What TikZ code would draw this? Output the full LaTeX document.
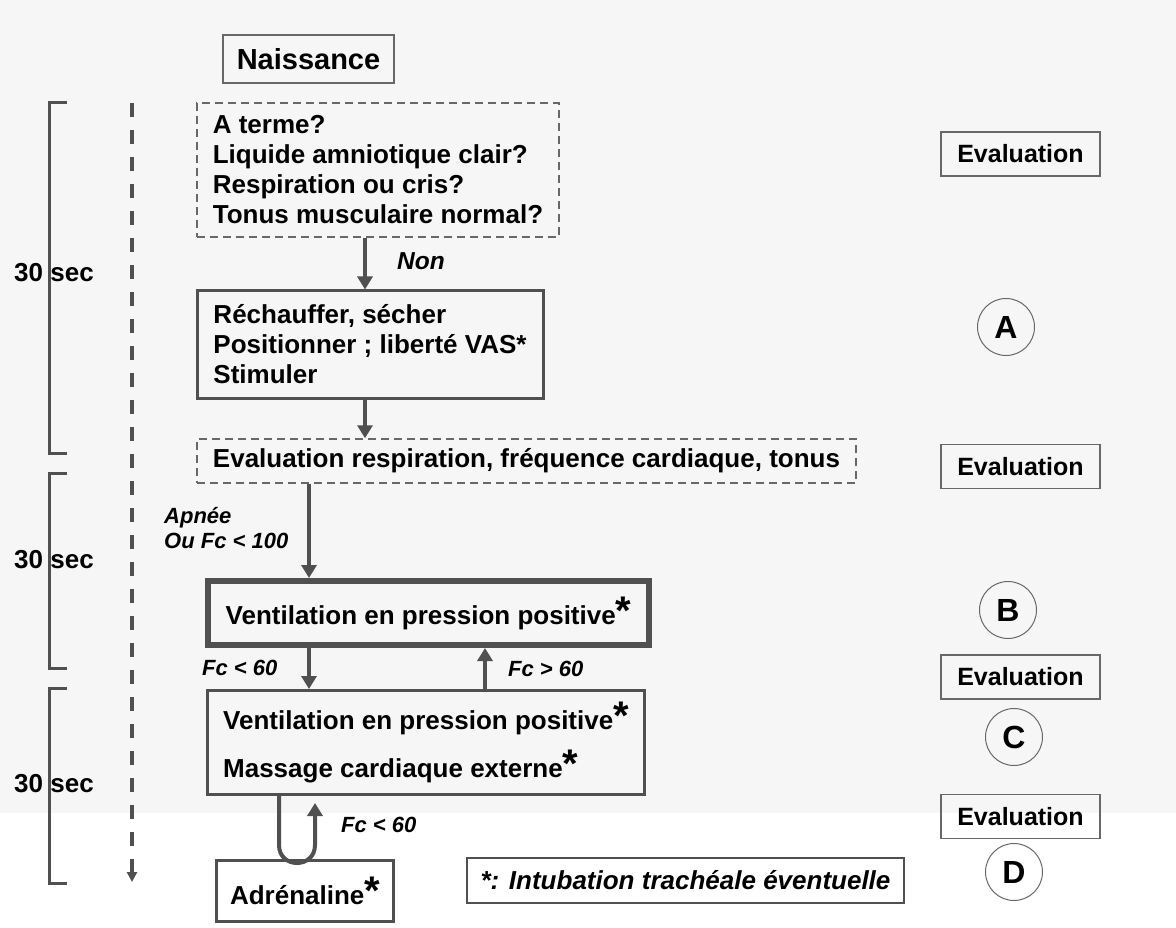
\documentclass[tikz,border=0pt]{standalone}
\usepackage{fontspec}
\setmainfont{Liberation Sans}
\usetikzlibrary{arrows.meta}
\definecolor{linegray}{HTML}{505050}
\definecolor{framegray}{HTML}{686868}
\definecolor{bggray}{HTML}{F6F6F6}
\newcommand{\bigast}{{\fontsize{40}{40}\selectfont *}}
\tikzset{
  box/.style={draw=linegray, line width=3pt, inner xsep=14pt, inner ysep=0pt, align=left, font=\bfseries\fontsize{26}{30}\selectfont},
  qbox/.style={box, draw=framegray, line width=1.5pt, dash pattern=on 8pt off 5pt},
  evalbox/.style={draw=framegray, line width=1.5pt, minimum width=159pt, minimum height=44pt, font=\bfseries\fontsize{25}{30}\selectfont},
  phase/.style={circle, draw=framegray, line width=1pt, minimum size=57pt, inner sep=0pt, font=\bfseries\fontsize{32}{32}\selectfont},
  lbl/.style={anchor=base west, inner sep=0pt, font=\bfseries\itshape\fontsize{22}{25}\selectfont},
  sec/.style={anchor=base, inner sep=0pt, font=\bfseries\fontsize{26}{30}\selectfont},
  arr/.style={draw=linegray, line width=4pt, -{Triangle[length=13pt,width=15pt]}},
  bracket/.style={draw=linegray, line width=3pt}
}
\begin{document}
\begin{tikzpicture}[x=1pt,y=-1pt]
  \fill[bggray] (0,0) rectangle (1176,813);
  \fill[white] (0,813) rectangle (1176,928);
  \useasboundingbox (0,0) rectangle (1176,928);

  % flowchart
  \node[draw=framegray, line width=1.5pt, minimum width=171pt, minimum height=48pt,
    font=\bfseries\fontsize{29}{34}\selectfont] (birth) at (308.5,59) {Naissance};
  \node[qbox, minimum width=362pt, minimum height=134pt] (q1) at (378,170)
    {A terme?\\Liquide amniotique clair?\\Respiration ou cris?\\Tonus musculaire normal?};
  \node[box, minimum width=346pt, minimum height=107pt] (rech) at (370,344.5)
    {Réchauffer, sécher\\Positionner ; liberté VAS*\\Stimuler};
  \node[qbox, minimum width=659pt, minimum height=44pt] (eval1) at (526.5,461)
    {Evaluation respiration, fréquence cardiaque, tonus};
  \node[box, line width=6pt, minimum width=441pt, minimum height=64pt] (vpp) at (428.5,613)
    {Ventilation en pression positive\bigast};
  \node[box, minimum width=437pt, minimum height=104pt] (vmc) at (426,742.5)
    {Ventilation en pression positive\bigast\\[15pt]Massage cardiaque externe\bigast};
  \node[box, minimum width=177pt, minimum height=61pt] (adr) at (305,891) {Adrénaline\bigast};
  \node[draw=linegray, line width=2pt, minimum width=437pt, minimum height=45pt,
    font=\bfseries\itshape\fontsize{26}{30}\selectfont] (note) at (685.5,880.5)
    {*: Intubation trachéale éventuelle};

  % right column
  \node[evalbox] (ev1) at (1020.5,154) {Evaluation};
  \node[evalbox] (ev2) at (1020.5,466.5) {Evaluation};
  \node[evalbox] (ev3) at (1020.5,677) {Evaluation};
  \node[evalbox] (ev4) at (1020.5,816.5) {Evaluation};
  \node[phase] (pa) at (1006,327) {A};
  \node[phase] (pb) at (1008,610) {B};
  \node[phase] (pc) at (1014,737) {C};
  \node[phase] (pd) at (1014,872) {D};

  % labels
  \node[lbl, font=\bfseries\itshape\fontsize{24.5}{28}\selectfont] (non) at (397,270) {Non};
  \node[lbl, align=left, anchor=north west] (apnee) at (164,507) {Apnée\\Ou Fc < 100};
  \node[lbl] (fc1) at (202,675) {Fc < 60};
  \node[lbl] (fc2) at (508,676) {Fc > 60};
  \node[lbl] (fc3) at (341,832) {Fc < 60};

  % arrows
  \coordinate (c1) at (365,0);
  \coordinate (c2) at (309,0);
  \coordinate (c3) at (485,0);
  \coordinate (l1) at (279,0);
  \coordinate (l2) at (315,0);
  \draw[arr] (q1.south -| c1) -- (rech.north -| c1);
  \draw[arr] (rech.south -| c1) -- (eval1.north -| c1);
  \draw[arr] (eval1.south -| c2) -- (vpp.north -| c2);
  \draw[arr] (vpp.south -| c2) -- (vmc.north -| c2);
  \draw[arr] (vmc.north -| c3) -- (vpp.south -| c3);
  \draw[arr] (vmc.south -| l1) -- (279,845) .. controls (279,869) and (315,869) .. (315,845)
    -- ([yshift=-7pt]vmc.south -| l2);

  % time line
  \coordinate (tl0) at (132,103);
  \coordinate (tl1) at (132,882);
  \draw[linegray, line width=4pt, dash pattern=on 14pt off 13pt,
    -{Triangle[length=10pt,width=10pt]}] (tl0) -- (tl1);
  \foreach \top/\bot in {103/453, 473/668, 688/883}
    \draw[bracket] (67,\top) -- (49,\top) -- (49,\bot) -- (67,\bot);
  \node[sec] (t1) at (54,282) {30 sec};
  \node[sec] (t2) at (54,568) {30 sec};
  \node[sec] (t3) at (54,792) {30 sec};
\end{tikzpicture}
\end{document}
